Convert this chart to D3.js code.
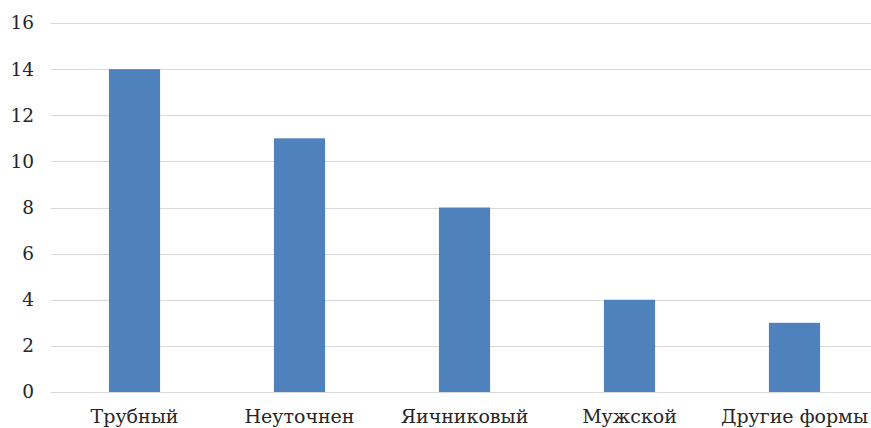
<!DOCTYPE html>
<html>
<head>
<meta charset="utf-8">
<script src="https://cdn.jsdelivr.net/npm/d3@7"></script>
<style>
  body { margin: 0; background: #fff; }
  svg text { font-family: "DejaVu Serif", serif; fill: #262626; }
</style>
</head>
<body>
<div id="chart"></div>
<script>
const CATEGORIES = ["Трубный", "Неуточнен", "Яичниковый", "Мужской", "Другие формы"];
const VALUES = [14, 11, 8, 4, 3];
const Y_TICKS = [0, 2, 4, 6, 8, 10, 12, 14, 16];

var width = 871,
    height = 428;

const svg = d3.select("#chart").append("svg")
  .attr("width", width)
  .attr("height", height);

const x = d3.scaleBand()
  .domain(CATEGORIES)
  .range([52, 877])
  .paddingInner(0.69)
  .paddingOuter(0.345);

const y = d3.scaleLinear()
  .domain([0, 16])
  .range([392, 23]);

// gridlines
svg.append("g")
  .selectAll("line")
  .data(Y_TICKS)
  .join("line")
  .attr("x1", 51)
  .attr("x2", width)
  .attr("y1", d => Math.round(y(d)) + 0.5)
  .attr("y2", d => Math.round(y(d)) + 0.5)
  .attr("stroke", "#d9d9d9")
  .attr("stroke-width", 1);

// y labels
svg.append("g")
  .selectAll("text")
  .data(Y_TICKS)
  .join("text")
  .attr("x", 34)
  .attr("y", d => y(d))
  .attr("dy", "0.35em")
  .attr("text-anchor", "end")
  .style("font-size", "18.5px")
  .text(d => d);

// bars
svg.append("g")
  .selectAll("rect")
  .data(VALUES)
  .join("rect")
  .attr("x", (d, i) => x(CATEGORIES[i]))
  .attr("y", d => y(d))
  .attr("width", x.bandwidth())
  .attr("height", d => y(0) - y(d))
  .attr("fill", "#4f81bd");

// x labels
svg.append("g")
  .selectAll("text")
  .data(CATEGORIES)
  .join("text")
  .attr("x", d => x(d) + x.bandwidth() / 2)
  .attr("y", 423)
  .attr("text-anchor", "middle")
  .style("font-size", "19px")
  .text(d => d);
</script>
</body>
</html>
